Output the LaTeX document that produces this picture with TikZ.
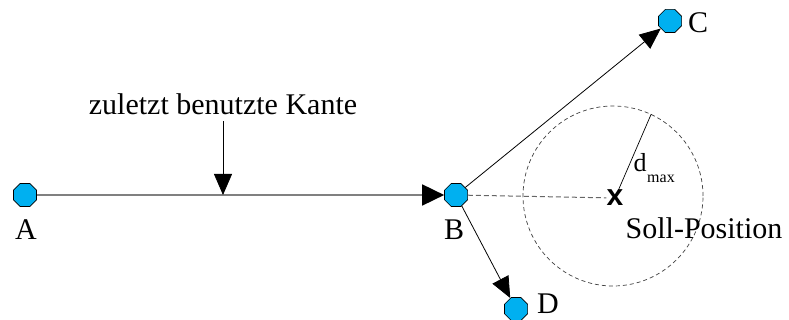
\documentclass[tikz,border=0pt]{standalone}
\usepackage{fontspec}
\setmainfont{Liberation Serif}
\newfontfamily\markfont{Liberation Sans}
\usetikzlibrary{shapes.geometric,arrows.meta}
\definecolor{nodeblue}{RGB}{0,176,240}
\definecolor{edgegray}{RGB}{128,128,128}
\begin{document}
\begin{tikzpicture}[x=1pt,y=-1pt,
  vertex/.style={regular polygon,regular polygon sides=8,minimum size=25pt,
    inner sep=0pt,draw=black,line width=0.6pt,fill=nodeblue},
  lbl/.style={font=\fontsize{30}{34}\selectfont,inner sep=0pt,anchor=base},
  bigtip/.style={-{Triangle[length=21pt,width=18pt]}},
  thinedge/.style={black,line width=0.8pt,bigtip},
]
\useasboundingbox (0,0) rectangle (789,320);

% graph vertices
\node[vertex] (A) at (25,195) {};
\node[vertex] (B) at (456,195) {};
\node[vertex] (C) at (670,21) {};
\node[vertex] (D) at (516,309) {};

% vertex labels
\node[lbl] (lA) at (26,240) {A};
\node[lbl] (lB) at (454,240) {B};
\node[lbl] (lC) at (698,33) {C};
\node[lbl] (lD) at (548,313) {D};

% last used edge
\draw[edgegray,line width=1.8pt,-{Triangle[length=22pt,width=21pt,color=black]}] (A) -- (B);
\node[lbl] (kante) at (223,115) {zuletzt benutzte Kante};
\coordinate (kb) at (223,195);
\draw[black,line width=0.8pt,bigtip] ([yshift=-6pt]kante.south) -- (kante.south |- kb);

% candidate edges
\draw[thinedge] (B) -- (C);
\draw[thinedge] (B) -- (D);

% target position and tolerance circle
\node[font=\markfont\bfseries\fontsize{30}{30}\selectfont,inner sep=0pt] (X) at (615,198) {x};
\node[circle,draw=black!75,dash pattern=on 4pt off 3pt,line width=0.7pt,
  minimum size=180pt,inner sep=0pt] (zone) at (613,196) {};
\draw[black!60,line width=1pt,dash pattern=on 5pt off 3pt] (B) -- (X);
\draw[black,line width=0.7pt] (X.center) -- (zone.65);
\node[font=\fontsize{26}{28}\selectfont,inner sep=0pt,anchor=base] (d) at (640,172) {d};
\node[font=\fontsize{16}{18}\selectfont,inner sep=0pt,anchor=base] (dmax) at (661,183) {max};
\node[lbl] (soll) at (704,239) {Soll-Position};
\end{tikzpicture}
\end{document}
